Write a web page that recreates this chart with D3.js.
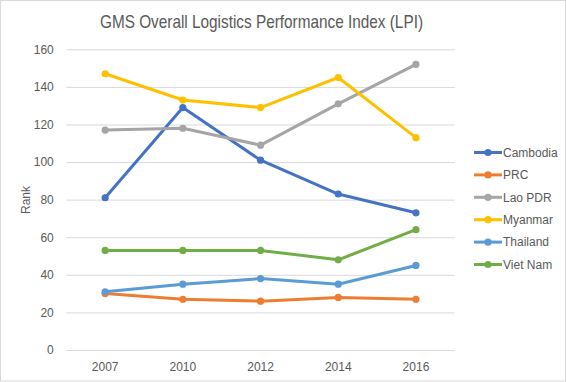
<!DOCTYPE html>
<html>
<head>
<meta charset="utf-8">
<script src="https://cdn.jsdelivr.net/npm/d3@7"></script>
<style>
  html, body { margin: 0; padding: 0; background: #fff; }
  svg { display: block; }
  text { font-family: "Liberation Sans", Arial, sans-serif; }
</style>
</head>
<body>
<svg id="chart" width="566" height="382"></svg>
<script>
const years = ["2007", "2010", "2012", "2014", "2016"];
const seriesNames = ["Cambodia", "PRC", "Lao PDR", "Myanmar", "Thailand", "Viet Nam"];
const cambodia = [81, 129, 101, 83, 73];
const prc = [30, 27, 26, 28, 27];
const laoPDR = [117, 118, 109, 131, 152];
const myanmar = [147, 133, 129, 145, 113];
const thailand = [31, 35, 38, 35, 45];
const vietNam = [53, 53, 53, 48, 64];
const yTicks = [0, 20, 40, 60, 80, 100, 120, 140, 160];
const colors = ["#4472C4", "#ED7D31", "#A5A5A5", "#FFC000", "#5B9BD5", "#70AD47"];
const titleText = "GMS Overall Logistics Performance Index (LPI)";
const yAxisTitle = "Rank";

const seriesValues = [cambodia, prc, laoPDR, myanmar, thailand, vietNam];
const series = seriesNames.map((name, i) => ({ name, values: seriesValues[i], color: colors[i] }));

const svg = d3.select("#chart");
const W = 566, H = 382;
const plot = { left: 66.3, right: 454.8, top: 49.3, bottom: 350 };

// outer border
svg.append("rect").attr("x", 0.5).attr("y", 0.5).attr("width", W - 1).attr("height", H - 1.5)
  .attr("fill", "#fff").attr("stroke", "#d9d9d9").attr("stroke-width", 1);

const x = d3.scaleBand().domain(years).range([plot.left, plot.right]).padding(0);
const y = d3.scaleLinear().domain([0, 160]).range([plot.bottom, plot.top]);

// gridlines
const yAxis = d3.axisLeft(y).tickValues(yTicks).tickSize(-(plot.right - plot.left)).tickPadding(12);
const gy = svg.append("g").attr("transform", `translate(${plot.left},0)`).call(yAxis);
gy.select(".domain").remove();
gy.selectAll(".tick line").attr("stroke", "#d9d9d9").attr("stroke-width", 1);
gy.selectAll(".tick text").attr("fill", "#595959").style("font-size", "12px")
  .style("font-family", "'Liberation Sans', Arial, sans-serif").attr("x", -12.5);

// x axis labels
const xAxis = d3.axisBottom(x).tickSize(0).tickPadding(10);
const gx = svg.append("g").attr("transform", `translate(0,${plot.bottom})`).call(xAxis);
gx.select(".domain").remove();
gx.selectAll(".tick text").attr("fill", "#595959").style("font-size", "12px")
  .style("font-family", "'Liberation Sans', Arial, sans-serif").attr("dy", "0.9em");

// y axis title
svg.append("text").attr("transform", "translate(30,200) rotate(-90)")
  .attr("text-anchor", "middle").attr("fill", "#595959").style("font-size", "12px")
  .text(yAxisTitle);

// title
svg.append("text").attr("x", 261.5).attr("y", 28)
  .attr("text-anchor", "middle").attr("fill", "#595959").style("font-size", "18.5px")
  .attr("textLength", 323).attr("lengthAdjust", "spacingAndGlyphs")
  .text(titleText);

// lines
const line = d3.line().x((d, i) => x(years[i]) + x.bandwidth() / 2).y(d => y(d));
series.forEach(s => {
  const g = svg.append("g");
  g.append("path").attr("d", line(s.values)).attr("fill", "none")
    .attr("stroke", s.color).attr("stroke-width", 3).attr("stroke-linejoin", "round").attr("stroke-linecap", "round");
  g.selectAll("circle").data(s.values).enter().append("circle")
    .attr("cx", (d, i) => x(years[i]) + x.bandwidth() / 2).attr("cy", d => y(d))
    .attr("r", 3.6).attr("fill", s.color);
});

// legend
const legend = svg.append("g");
series.forEach((s, i) => {
  const ly = 152.5 + i * 22.4;
  legend.append("line").attr("x1", 474).attr("x2", 502).attr("y1", ly).attr("y2", ly)
    .attr("stroke", s.color).attr("stroke-width", 3);
  legend.append("circle").attr("cx", 488).attr("cy", ly).attr("r", 3.6).attr("fill", s.color);
  legend.append("text").attr("x", 503).attr("y", ly).attr("dy", "0.35em")
    .attr("fill", "#595959").style("font-size", "12px").text(s.name);
});
</script>
</body>
</html>
